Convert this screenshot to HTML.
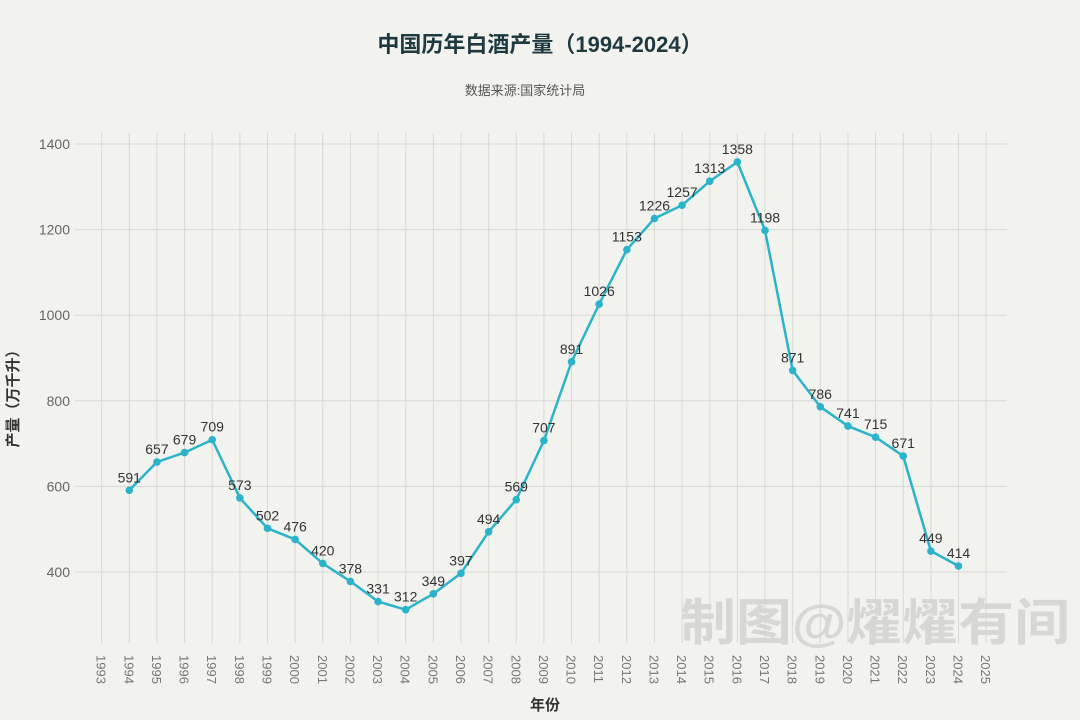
<!DOCTYPE html>
<html><head><meta charset="utf-8"><style>
body{margin:0;background:#f2f2ee;}
svg{display:block;font-family:"Liberation Sans","Noto Sans CJK SC",sans-serif;}
</style></head><body>
<svg id="chart" width="1080" height="720" xmlns="http://www.w3.org/2000/svg">
<rect width="1080" height="720" fill="#f2f2ee"/>
<text x="540" y="52" text-anchor="middle" font-size="22" font-weight="bold" fill="#1e3a40">中国历年白酒产量（1994-2024）</text>
<text x="525" y="95" text-anchor="middle" font-size="13" fill="#555">数据来源:国家统计局</text>
<g id="grid"></g>
<g id="xticks"></g>
<g id="yticks"></g>
<text transform="translate(18,395) rotate(-90)" text-anchor="middle" font-size="15" font-weight="bold" fill="#333">产量（万千升）</text>
<text x="545" y="710" text-anchor="middle" font-size="15" font-weight="bold" fill="#333">年份</text>
<g id="series"></g>
<text x="680" y="640" textLength="390" lengthAdjust="spacingAndGlyphs" font-size="50" font-weight="bold" fill="#d3d3d0" opacity="0.85">制图@燿燿有间</text>
</svg>
<script>
const years=[1994,1995,1996,1997,1998,1999,2000,2001,2002,2003,2004,2005,2006,2007,2008,2009,2010,2011,2012,2013,2014,2015,2016,2017,2018,2019,2020,2021,2022,2023,2024];
const values=[591,657,679,709,573,502,476,420,378,331,312,349,397,494,569,707,891,1026,1153,1226,1257,1313,1358,1198,871,786,741,715,671,449,414];
const xTickYears=[1993,1994,1995,1996,1997,1998,1999,2000,2001,2002,2003,2004,2005,2006,2007,2008,2009,2010,2011,2012,2013,2014,2015,2016,2017,2018,2019,2020,2021,2022,2023,2024,2025];
const yTicks=[400,600,800,1000,1200,1400];
const NS="http://www.w3.org/2000/svg";
function xs(y){return 129.3+(y-1994)*27.64;}
function ys(v){return 572-(v-400)*0.428;}
function mk(t,a,p){const e=document.createElementNS(NS,t);for(const k in a)e.setAttribute(k,a[k]);p.appendChild(e);return e;}
const grid=document.getElementById('grid'),xt=document.getElementById('xticks'),yt=document.getElementById('yticks'),se=document.getElementById('series');
yTicks.forEach(v=>{
  const l=mk('line',{x1:75,x2:1007,y1:ys(v),y2:ys(v),stroke:'#d8d8d4','stroke-width':1},grid);
  
  
  const t=mk('text',{x:70,y:ys(v)+5,'text-anchor':'end','font-size':14,fill:'#666'},yt);
  t.textContent=v;
  
  
});
xTickYears.forEach(y=>{
  const l=mk('line',{x1:xs(y),x2:xs(y),y1:133,y2:643,stroke:'#d8d8d4','stroke-width':1},grid);
  
  
  const t=mk('text',{transform:`translate(${xs(y)-5},655) rotate(90)`,'font-size':13,fill:'#777'},xt);
  t.textContent=y;
  
  
});
const pts=years.map((y,i)=>xs(y)+','+ys(values[i])).join(' ');
const pl=mk('polyline',{points:pts,fill:'none',stroke:'#2bb4c9','stroke-width':2.5,'stroke-linejoin':'round'},se);


years.forEach((y,i)=>{
  const c=mk('circle',{cx:xs(y),cy:ys(values[i]),r:3.8,fill:'#2bb4c9'},se);
  
  
  const t=mk('text',{x:xs(y),y:ys(values[i])-8,'text-anchor':'middle','font-size':14,fill:'#333'},se);
  t.textContent=values[i];
  
  
});
</script>
</body></html>
